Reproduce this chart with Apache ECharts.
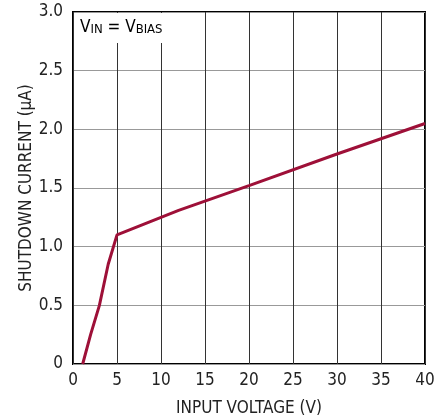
<!DOCTYPE html>
<html><head><meta charset="utf-8">
<script src="https://cdn.jsdelivr.net/npm/echarts@6/dist/echarts.min.js"></script>
<style>html,body{margin:0;padding:0;background:#fff}#c{width:447px;height:419px}</style>
</head><body><div id="c"></div>
<script>
const inputVoltage = [1.1, 2, 3, 4, 5, 12, 20, 30, 35, 40];
const shutdownCurrent = [0, 0.25, 0.5, 0.85, 1.1, 1.31, 1.52, 1.79, 1.92, 2.05];
const xTicks = [0, 5, 10, 15, 20, 25, 30, 35, 40];
const yTicks = [0, 0.5, 1.0, 1.5, 2.0, 2.5, 3.0];
const FONT = '"Liberation Sans Narrow", "DejaVu Sans Condensed", sans-serif';

const chart = echarts.init(document.getElementById('c'), null, {renderer: 'canvas'});
chart.setOption({
  animation: false,
  grid: {left: 73, right: 22, top: 12, bottom: 55, outerBoundsMode: 'none', containLabel: false,
    show: true, borderColor: '#000', borderWidth: 2, backgroundColor: '#fff'},
  xAxis: {
    type: 'value', min: xTicks[0], max: xTicks[xTicks.length - 1], interval: 5,
    name: 'INPUT VOLTAGE (V)', nameLocation: 'middle', nameGap: 36, nameMoveOverlap: false,
    nameTextStyle: {fontFamily: FONT, fontSize: 17, color: '#222'},
    axisLine: {show: false}, axisTick: {show: false},
    axisLabel: {fontFamily: FONT, fontSize: 17, color: '#222', margin: 8},
    splitLine: {show: true, lineStyle: {color: '#333', width: 1}}
  },
  yAxis: {
    type: 'value', min: yTicks[0], max: yTicks[yTicks.length - 1], interval: 0.5,
    name: 'SHUTDOWN CURRENT (µA)', nameLocation: 'middle', nameGap: 38, nameRotate: 90, nameMoveOverlap: false,
    nameTextStyle: {fontFamily: FONT, fontSize: 17, color: '#222'},
    axisLine: {show: false}, axisTick: {show: false},
    axisLabel: {fontFamily: FONT, fontSize: 17, color: '#222', margin: 10,
      formatter: v => v === 0 ? '0' : v.toFixed(1)},
    splitLine: {show: true, lineStyle: {color: '#999', width: 1}}
  },
  series: [{
    type: 'line', data: inputVoltage.map((x, i) => [x, shutdownCurrent[i]]),
    showSymbol: false, lineStyle: {color: '#9e1038', width: 3}, z: 5
  }],
  graphic: [
    {type: 'rect', left: 74, top: 13, shape: {width: 94, height: 30}, style: {fill: '#fff'}, z: 10},
    {type: 'text', left: 80, top: 17, z: 11, style: {
      text: '{a|V}{s|IN}{a| = V}{s|BIAS}',
      rich: {
        a: {fontFamily: FONT, fontSize: 17, color: '#222', lineHeight: 22, verticalAlign: 'bottom'},
        s: {fontFamily: FONT, fontSize: 13, color: '#222', lineHeight: 22, verticalAlign: 'bottom', padding: [6, 0, 0, 0]}
      }
    }}
  ]
});
</script></body></html>
